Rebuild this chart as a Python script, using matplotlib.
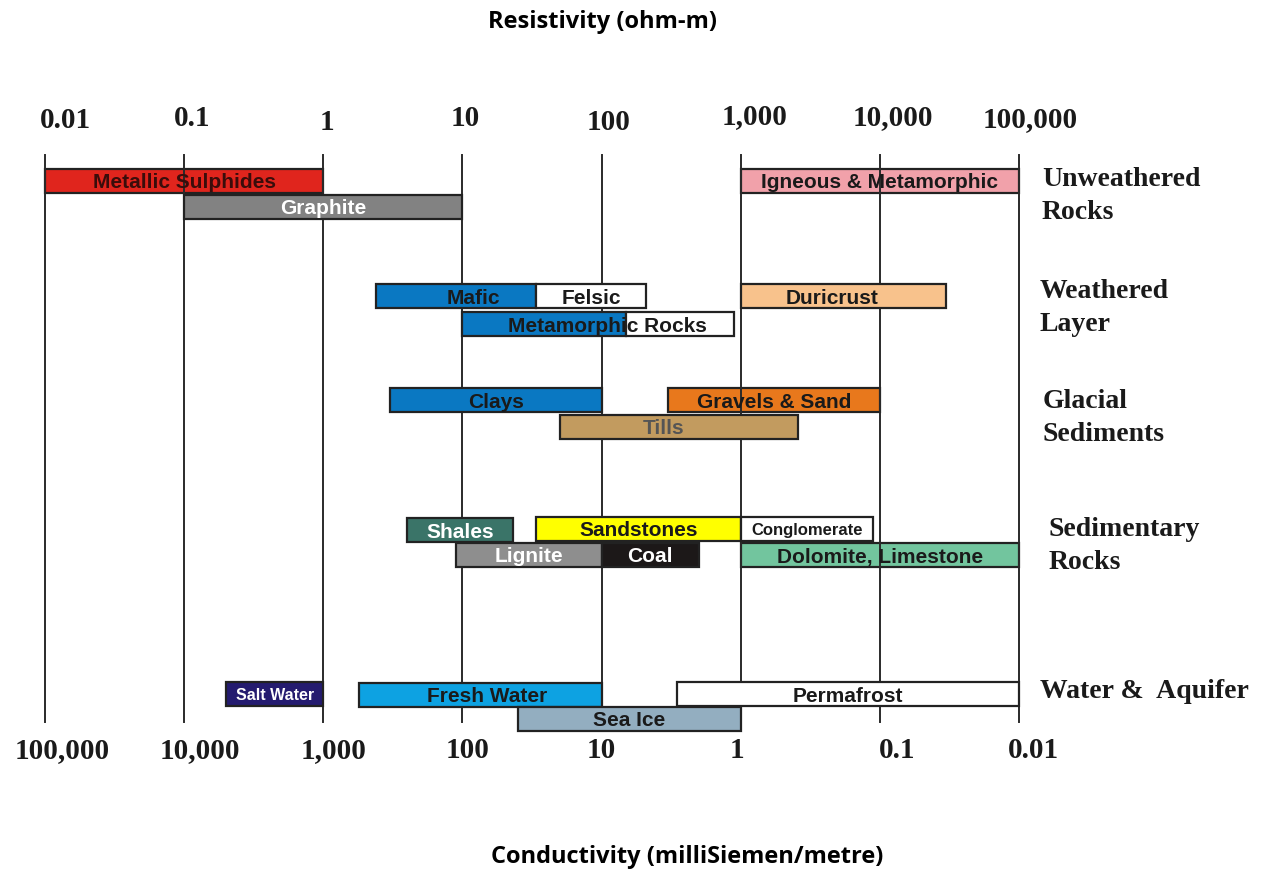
import numpy as np
import matplotlib.pyplot as plt

# resistivity ranges (ohm-m) for each material
materials = ["Metallic Sulphides", "Graphite", "Igneous & Metamorphic",
             "Mafic", "Felsic", "Metamorphic Rocks", "Duricrust",
             "Clays", "Gravels & Sand", "Tills",
             "Shales", "Sandstones", "Conglomerate", "Lignite", "Coal", "Dolomite, Limestone",
             "Salt Water", "Fresh Water", "Permafrost", "Sea Ice"]
res_low = [0.01, 0.1, 1000,
           2.4, 34, 10, 1000,
           3, 300, 50,
           4, 34, 1000, 9, 100, 1000,
           0.2, 1.8, 350, 25]
res_high = [1, 10, 100000,
            34, 210, 900, 30000,
            100, 10000, 2600,
            23, 1000, 9000, 100, 500, 100000,
            1, 100, 100000, 1000]
# metamorphic rocks bar changes colour at this resistivity
metamorphic_split = 150

tick_values = [0.01, 0.1, 1, 10, 100, 1000, 10000, 100000]
top_labels = ["0.01", "0.1", "1", "10", "100", "1,000", "10,000", "100,000"]
bottom_labels = ["100,000", "10,000", "1,000", "100", "10", "1", "0.1", "0.01"]

groups = ["Unweathered\nRocks", "Weathered\nLayer", "Glacial\nSediments",
          "Sedimentary\nRocks", "Water &  Aquifer"]

# layout: vertical centre of each bar (pixel rows, top down)
row_y = {
    "Metallic Sulphides": 181, "Graphite": 207, "Igneous & Metamorphic": 181,
    "Mafic": 296, "Felsic": 296, "Metamorphic Rocks": 324, "Duricrust": 296,
    "Clays": 400, "Gravels & Sand": 400, "Tills": 427,
    "Shales": 530, "Sandstones": 529, "Conglomerate": 529,
    "Lignite": 555, "Coal": 555, "Dolomite, Limestone": 555,
    "Salt Water": 694, "Fresh Water": 695, "Permafrost": 694, "Sea Ice": 719,
}
colors = {
    "Metallic Sulphides": "#e0251d", "Graphite": "#828282", "Igneous & Metamorphic": "#f1a1aa",
    "Mafic": "#0a78c2", "Felsic": "white", "Metamorphic Rocks": "#0a78c2", "Duricrust": "#f8c28c",
    "Clays": "#0a78c2", "Gravels & Sand": "#e8781c", "Tills": "#c29b5f",
    "Shales": "#3a7468", "Sandstones": "#ffff00", "Conglomerate": "white",
    "Lignite": "#8e8e8e", "Coal": "#1c1818", "Dolomite, Limestone": "#72c59e",
    "Salt Water": "#241b6f", "Fresh Water": "#0da2e2", "Permafrost": "white", "Sea Ice": "#93aec0",
}
text_colors = {"Graphite": "white", "Shales": "white", "Lignite": "white",
               "Coal": "white", "Salt Water": "white", "Tills": "#555555",
               "Metallic Sulphides": "#3a0d0b"}
text_sizes = {"Conglomerate": 12, "Salt Water": 11.5}
label_at = {"Mafic": 12, "Metamorphic Rocks": 110, "Duricrust": 4500,
            "Tills": 280, "Fresh Water": 15}
see_through = {"Metallic Sulphides", "Igneous & Metamorphic", "Dolomite, Limestone",
               "Gravels & Sand"}

# label placement (pixels)
top_dx = [20, 8, 4, 3, 7, 14, 13, 11]
top_y = [121, 118, 122, 119, 123, 117, 118, 120]
bottom_dx = [17, 16, 10, 5, 0, -4, 17, 14]
group_dx = [23, 21, 24, 30, 21]
group_y = [196, 308, 418, 546, 691]

fig = plt.figure(figsize=(12.64, 8.74), dpi=100)
ax = fig.add_axes([0, 0, 1, 1])
ax.set_xscale("log")
decade = (1019 - 45) / 7
ax.set_xlim(10 ** (-2 - 45 / decade), 10 ** (5 + (1264 - 1019) / decade))
ax.set_ylim(874, 0)
ax.axis("off")


def shift(v, px):
    return v * 10 ** (px / decade)


# vertical decade lines
for v in tick_values:
    ax.plot([v, v], [155, 722], color="#2a2a2a", lw=1.4, zorder=2)

bar_h = 24
for name, lo, hi in zip(materials, res_low, res_high):
    y = row_y[name]
    z = 1 if name in see_through else 3
    kw = dict(height=bar_h, edgecolor="#222222", linewidth=1.6, zorder=z)
    if name == "Metamorphic Rocks":
        ax.barh(y, metamorphic_split - lo, left=lo, color=colors[name], **kw)
        ax.barh(y, hi - metamorphic_split, left=metamorphic_split, color="white", **kw)
    else:
        ax.barh(y, hi - lo, left=lo, color=colors[name], **kw)
    xc = label_at.get(name, np.sqrt(lo * hi))
    ax.text(xc, y + 2, name, ha="center", va="center",
            color=text_colors.get(name, "#1a1a1a"),
            fontsize=text_sizes.get(name, 15), fontweight="bold",
            family="Liberation Sans", zorder=5)

serif = dict(family="Liberation Serif", fontweight="bold", color="#1a1a1a")
for v, lab, dx, ty in zip(tick_values, top_labels, top_dx, top_y):
    ax.text(shift(v, dx), ty, lab, ha="center", va="center", fontsize=21, **serif)
for v, lab, dx in zip(tick_values, bottom_labels, bottom_dx):
    ax.text(shift(v, dx), 751, lab, ha="center", va="center", fontsize=21, **serif)

for g, dx, gy in zip(groups, group_dx, group_y):
    ax.text(shift(100000, dx), gy, g, ha="left", va="center",
            fontsize=20, linespacing=1.38, **serif)

ax.text(0.477, 0.975, "Resistivity (ohm-m)", transform=ax.transAxes,
        ha="center", va="center", fontsize=17, fontweight="bold", family="Open Sans")
ax.text(0.544, 0.02, "Conductivity (milliSiemen/metre)", transform=ax.transAxes,
        ha="center", va="center", fontsize=17, fontweight="bold", family="Open Sans")

fig.savefig("out.png", dpi=100)
